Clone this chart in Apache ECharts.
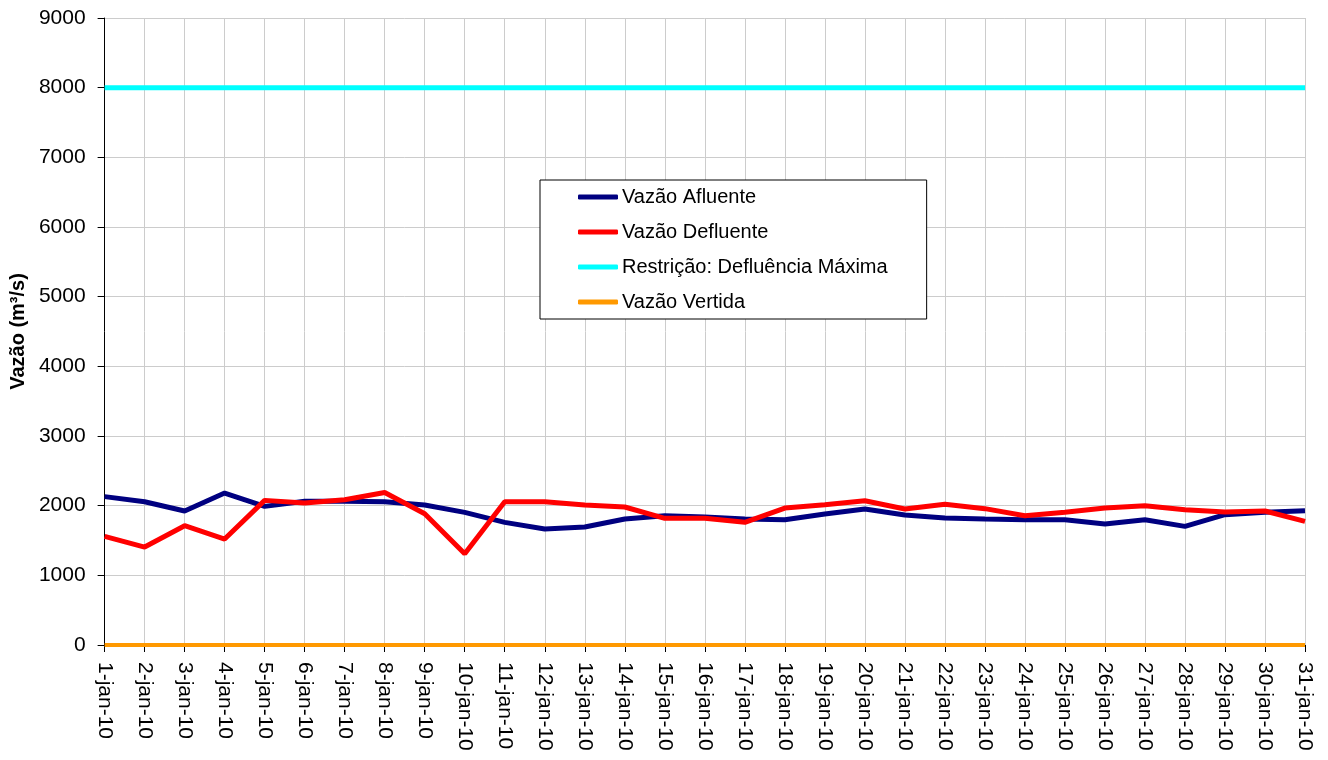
<!DOCTYPE html>
<html>
<head>
<meta charset="utf-8">
<script src="https://cdn.jsdelivr.net/npm/echarts@6/dist/echarts.min.js"></script>
<style>
  html, body { margin: 0; padding: 0; background: #fff; }
  #chart { width: 1328px; height: 760px; }
</style>
</head>
<body>
<div id="chart"></div>
<script>
// dias de janeiro/2010
const dias = []
for (let d = 1; d <= 31; d++) dias.push(d + '-jan-10')

const afluente = [2130, 2057, 1923, 2181, 1990, 2062, 2065, 2057, 2010, 1904,
  1760, 1665, 1694, 1809, 1856, 1837, 1809, 1799, 1880, 1952,
  1865, 1823, 1809, 1799, 1799, 1737, 1799, 1703, 1870, 1904, 1928]
const defluente = [1559, 1406, 1712, 1521, 2076, 2038, 2086, 2190, 1885, 1310,
  2057, 2057, 2010, 1981, 1818, 1818, 1761, 1966, 2014, 2071,
  1952, 2019, 1957, 1856, 1904, 1966, 2000, 1943, 1909, 1923, 1775]
const restricao = dias.map(() => 8000)
const vertida = dias.map(() => 0)

const fonte = 'Liberation Sans, Arial, sans-serif'

const chart = echarts.init(document.getElementById('chart'))
chart.setOption({
  animation: false,
  textStyle: { fontFamily: fonte },
  grid: { left: 104, right: 23, top: 18, bottom: 115, containLabel: false },
  legend: {
    orient: 'vertical',
    left: 540,
    top: 180,
    padding: [7, 39, 7, 38],
    itemGap: 15,
    itemWidth: 40,
    itemHeight: 5,
    icon: 'roundRect',
    backgroundColor: '#fff',
    borderColor: '#000',
    borderWidth: 1,
    textStyle: { fontSize: 20, color: '#000', fontFamily: fonte, lineHeight: 20, padding: [0, 0, 0, -1] },
    data: ['Vazão Afluente', 'Vazão Defluente', 'Restrição: Defluência Máxima', 'Vazão Vertida']
  },
  xAxis: {
    type: 'category',
    data: dias,
    boundaryGap: false,
    axisLine: { lineStyle: { color: '#000', width: 1 } },
    axisTick: { show: true, interval: 0, length: 7, lineStyle: { color: '#000' } },
    axisLabel: { interval: 0, rotate: -90, color: '#000', fontSize: 21, margin: 17, fontFamily: fonte },
    splitLine: { show: true, interval: 0, lineStyle: { color: '#cccccc', width: 1 } }
  },
  yAxis: {
    type: 'value',
    min: 0,
    max: 9000,
    interval: 1000,
    name: 'Vazão (m³/s)',
    nameLocation: 'middle',
    nameGap: 69,
    nameRotate: 90,
    nameTextStyle: { fontSize: 20, fontWeight: 'bold', color: '#000', fontFamily: fonte },
    axisLine: { show: true, lineStyle: { color: '#000', width: 1 } },
    axisTick: { show: true, length: 7, lineStyle: { color: '#000' } },
    axisLabel: { color: '#000', fontSize: 21, margin: 19, fontFamily: fonte, formatter: v => String(v) },
    splitLine: { show: true, lineStyle: { color: '#cccccc', width: 1 } }
  },
  series: [
    {
      name: 'Vazão Afluente', type: 'line', data: afluente, symbol: 'none',
      color: '#000080', lineStyle: { width: 5, color: '#000080' }, z: 3
    },
    {
      name: 'Vazão Defluente', type: 'line', data: defluente, symbol: 'none',
      color: '#ff0000', lineStyle: { width: 5, color: '#ff0000' }, z: 4
    },
    {
      name: 'Restrição: Defluência Máxima', type: 'line', data: restricao, symbol: 'none',
      color: '#00ffff', lineStyle: { width: 5, color: '#00ffff' }, z: 2
    },
    {
      name: 'Vazão Vertida', type: 'line', data: vertida, symbol: 'none',
      color: '#ff9900', lineStyle: { width: 4, color: '#ff9900' }, z: 2
    }
  ]
})
</script>
</body>
</html>
